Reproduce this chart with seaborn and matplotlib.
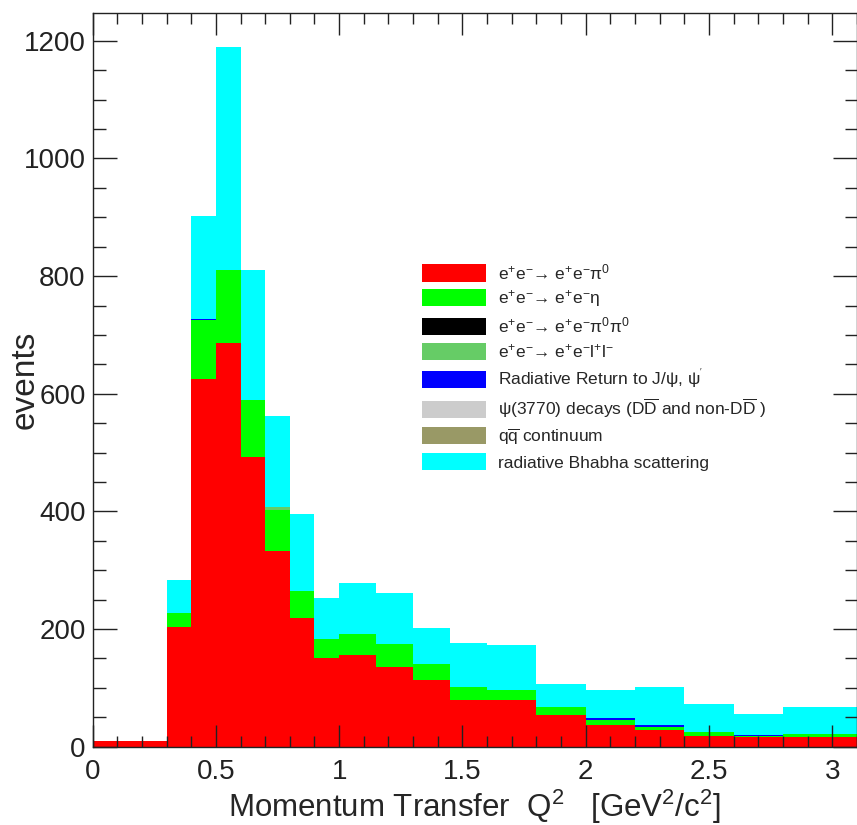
import numpy as np
import pandas as pd
import seaborn as sns
import matplotlib
matplotlib.use("Agg")
import matplotlib.pyplot as plt
from matplotlib.patches import Patch
from matplotlib.ticker import MultipleLocator

# ---------------- data ----------------
bin_edges = [0.0, 0.1, 0.2, 0.3, 0.4, 0.5, 0.6, 0.7, 0.8, 0.9, 1.0,
             1.15, 1.3, 1.45, 1.6, 1.8, 2.0, 2.2, 2.4, 2.6, 2.8, 3.1]

ee_pi0 = [9, 9, 9, 204, 625, 686, 492, 332, 219, 151, 155,
          136, 113, 80, 79, 53, 37, 28, 18, 17, 16]
ee_eta = [0, 0, 0, 24, 100, 125, 98, 71, 46, 32, 37,
          38, 28, 21, 17, 14, 9, 5, 7, 1, 5]
ee_pi0pi0 = [0, 0, 0, 0, 0, 0, 0, 0, 0, 0, 0,
             0, 0, 0, 0, 0, 0, 0, 0, 0, 0]
ee_ll = [0, 0, 0, 0, 0, 0, 0, 4, 0, 0, 0,
         0, 0, 0, 0, 0, 0, 0, 0, 0, 0]
rad_return = [0, 0, 0, 0, 2, 0, 0, 0, 0, 0, 0,
              0, 0, 0, 0, 0, 2, 3, 0, 2, 0]
psi3770 = [0, 0, 0, 0, 0, 0, 0, 1, 0, 0, 0,
           0, 0, 0, 0, 0, 0, 0, 0, 0, 0]
qq_cont = [0, 0, 0, 0, 0, 0, 0, 0, 0, 0, 0,
           0, 0, 0, 0, 0, 0, 0, 0, 0, 0]
bhabha = [0, 0, 0, 55, 176, 379, 221, 154, 130, 70, 86,
          87, 60, 75, 76, 39, 49, 66, 47, 35, 46]

component_names = ["ee_pi0", "ee_eta", "ee_pi0pi0", "ee_ll",
                   "rad_return", "psi3770", "qq", "bhabha"]
component_labels = [
    r"$e^{+}e^{-}$→ $e^{+}e^{-}\pi^{0}$",
    r"$e^{+}e^{-}$→ $e^{+}e^{-}\eta$",
    r"$e^{+}e^{-}$→ $e^{+}e^{-}\pi^{0}\pi^{0}$",
    r"$e^{+}e^{-}$→ $e^{+}e^{-}l^{+}l^{-}$",
    r"Radiative Return to J/$\psi$, $\psi^{'}$",
    r"$\psi$(3770) decays (D$\overline{\rm D}$ and non-D$\overline{\rm D}$ )",
    r"q$\overline{\rm q}$ continuum",
    "radiative Bhabha scattering",
]
component_colors = ["#ff0000", "#00ff00", "#000000", "#66cc66",
                    "#0000ff", "#cccccc", "#999966", "#00ffff"]

series = [ee_pi0, ee_eta, ee_pi0pi0, ee_ll, rad_return, psi3770, qq_cont, bhabha]

centers = [(a + b) / 2 for a, b in zip(bin_edges[:-1], bin_edges[1:])]
rows = []
for name, vals in zip(component_names, series):
    for c, v in zip(centers, vals):
        rows.append({"q2": c, "events": v, "component": name})
df = pd.DataFrame(rows)

# ---------------- style ----------------
sns.set_style("ticks")
plt.rcParams["font.family"] = ["Liberation Sans", "DejaVu Sans"]
plt.rcParams["mathtext.fontset"] = "custom"
plt.rcParams["mathtext.rm"] = "Liberation Sans"
plt.rcParams["mathtext.it"] = "Liberation Sans:italic"
plt.rcParams["mathtext.default"] = "regular"

fig = plt.figure(figsize=(8.57, 8.25), dpi=100)
ax = fig.add_axes([0.108, 0.095, 0.892, 0.889])

palette = dict(zip(component_names, component_colors))
sns.histplot(data=df, x="q2", weights="events", hue="component",
             hue_order=component_names[::-1], palette=palette,
             bins=bin_edges, multiple="stack", element="bars",
             linewidth=0, alpha=1, legend=False, ax=ax)

ax.set_xlim(0, 3.1)
ax.set_ylim(0, 1247)
ax.set_axisbelow(False)

ax.xaxis.set_major_locator(MultipleLocator(0.5))
ax.xaxis.set_minor_locator(MultipleLocator(0.1))
ax.yaxis.set_major_locator(MultipleLocator(200))
ax.yaxis.set_minor_locator(MultipleLocator(50))
ax.set_xticks([0, 0.5, 1, 1.5, 2, 2.5, 3])
ax.set_xticklabels(["0", "0.5", "1", "1.5", "2", "2.5", "3"])

ax.tick_params(axis="both", which="both", direction="in", top=True, right=True,
               colors="#222222", width=1.0)
ax.tick_params(axis="x", which="major", length=16, pad=9, labelsize=20)
ax.tick_params(axis="x", which="minor", length=8)
ax.tick_params(axis="y", which="major", length=17, pad=5, labelsize=20)
ax.tick_params(axis="y", which="minor", length=9)
for sp in ax.spines.values():
    sp.set_visible(True)
    sp.set_color("#222222")
    sp.set_linewidth(1.0)

ax.set_xlabel(r"Momentum Transfer  Q$^2$   [GeV$^2$/c$^2$]", fontsize=22.5)
ax.xaxis.set_label_coords(0.5, -0.056)
ax.xaxis.label.set_verticalalignment("top")
ax.set_ylabel("events", fontsize=24)
ax.yaxis.set_label_coords(-0.068, 0.5)

handles = [Patch(facecolor=c, edgecolor="none") for c in component_colors]
ax.legend(handles, component_labels, loc="upper left",
          bbox_to_anchor=(422 / 857, 1 - 262 / 825), bbox_transform=fig.transFigure,
          frameon=False, fontsize=12.5, handlelength=3.66, handleheight=1.14,
          handletextpad=0.74, labelspacing=0.37, borderpad=0, borderaxespad=0)

fig.savefig("out.png", dpi=100)
